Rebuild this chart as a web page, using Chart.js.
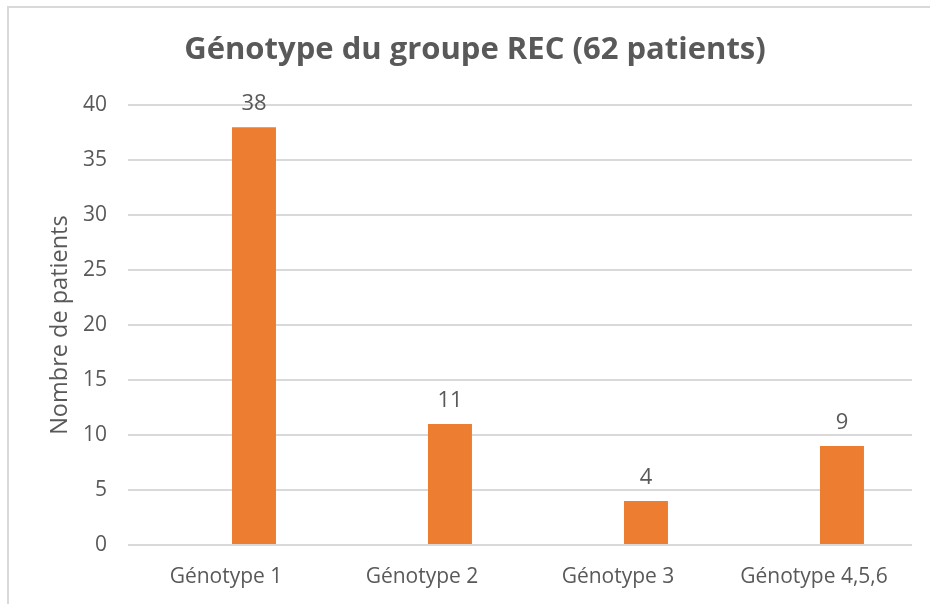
<!DOCTYPE html>
<html><head><meta charset="utf-8">
<script src="https://cdn.jsdelivr.net/npm/chart.js@4/dist/chart.umd.min.js"></script>
<style>html,body{margin:0;padding:0;background:#fff;}#wrap{width:930px;height:604px;position:relative;}</style>
</head><body><div id="wrap"><canvas id="c" width="930" height="604"></canvas></div>
<script>
const categories = ["Génotype 1", "Génotype 2", "Génotype 3", "Génotype 4,5,6"];
const patients = [38, 11, 4, 9];
const emptySeries = [null, null, null, null];
const yTicks = {min: 0, max: 40, step: 5};
const titleText = "Génotype du groupe REC (62 patients)";
const yTitle = "Nombre de patients";

const FONT = "'Open Sans', Lato, sans-serif";
const TXT = "#595959";

const framePlugin = {
  id: 'frame',
  beforeDraw(chart) {
    const ctx = chart.ctx;
    ctx.save();
    ctx.fillStyle = '#fff';
    ctx.fillRect(0, 0, chart.width, chart.height);
    ctx.strokeStyle = '#d9d9d9';
    ctx.lineWidth = 2;
    ctx.beginPath();
    ctx.moveTo(8, chart.height + 5);
    ctx.lineTo(8, 7);
    ctx.lineTo(chart.width + 5, 7);
    ctx.stroke();
    ctx.restore();
  }
};

const labelPlugin = {
  id: 'valueLabels',
  afterDatasetsDraw(chart) {
    const ctx = chart.ctx;
    const meta = chart.getDatasetMeta(1);
    ctx.save();
    ctx.font = "22px " + FONT;
    ctx.fillStyle = TXT;
    ctx.textAlign = 'center';
    ctx.textBaseline = 'alphabetic';
    meta.data.forEach((bar, i) => {
      const v = chart.data.datasets[1].data[i];
      ctx.fillText(String(v), bar.x, bar.y - 17);
    });
    ctx.restore();
  }
};

new Chart(document.getElementById('c'), {
  type: 'bar',
  data: {
    labels: categories,
    datasets: [
      {label: 'vide', data: emptySeries, backgroundColor: 'rgba(0,0,0,0)'},
      {label: 'Nombre de patients', data: patients, backgroundColor: '#ED7D31', borderWidth: 0}
    ]
  },
  options: {
    responsive: false,
    animation: false,
    devicePixelRatio: 1,
    categoryPercentage: 0.571,
    barPercentage: 0.786,
    layout: {padding: {left: 38, right: 18, top: 0, bottom: 0}},
    plugins: {
      legend: {display: false},
      tooltip: {enabled: false},
      title: {
        display: true,
        text: titleText,
        color: TXT,
        font: {family: FONT, size: 31, weight: 'bold'},
        padding: {top: 32, bottom: 36}
      }
    },
    scales: {
      x: {
        grid: {display: false, drawTicks: false},
        border: {display: false},
        ticks: {color: TXT, font: {family: FONT, size: 21}, padding: 19, maxRotation: 0},
        afterFit(scale) { scale.height = 59; }
      },
      y: {
        min: yTicks.min, max: yTicks.max,
        ticks: {stepSize: yTicks.step, color: TXT, font: {family: FONT, size: 21}, padding: 21},
        grid: {color: '#d9d9d9', lineWidth: 2, drawTicks: false},
        border: {display: false},
        title: {display: true, text: yTitle, color: TXT, font: {family: FONT, size: 23.5}, padding: {top: 8, bottom: 0}},
        afterFit(scale) { scale.width = 90; }
      }
    }
  },
  plugins: [framePlugin, labelPlugin]
});
</script></body></html>
